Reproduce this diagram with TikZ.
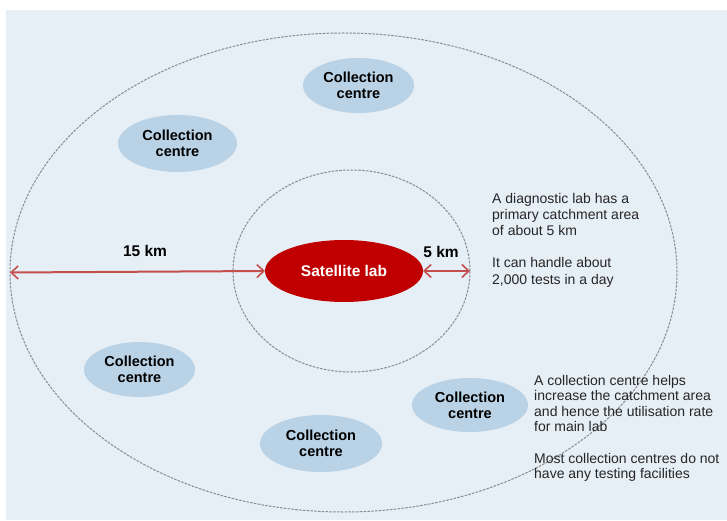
\documentclass[tikz,border=0pt]{standalone}
\usepackage{fontspec}
\setmainfont{Liberation Sans}
\usetikzlibrary{shapes.geometric,arrows.meta}

\definecolor{panel}{RGB}{230,238,246}
\definecolor{centrefill}{RGB}{185,210,229}
\definecolor{labred}{RGB}{192,0,0}
\definecolor{arrowred}{RGB}{196,80,77}
\definecolor{ringgray}{RGB}{140,140,140}
\definecolor{note}{RGB}{38,38,38}

\tikzset{
  ring/.style={ellipse, draw=ringgray, line width=1pt,
    dash pattern=on 2.6pt off 1.2pt, inner sep=0pt, outer sep=0pt},
  centre/.style={ellipse, fill=centrefill, inner sep=0pt, outer sep=0pt,
    align=center, text=black,
    font=\fontsize{14.5}{16}\selectfont\bfseries},
  lab/.style={ellipse, fill=labred, inner sep=0pt, outer sep=0pt,
    text=white, font=\fontsize{15.5}{18}\selectfont\bfseries},
  dist/.style={anchor=center, inner sep=0pt, text=black,
    font=\fontsize{15.5}{18}\selectfont\bfseries},
  reach/.style={draw=arrowred, line width=2pt,
    {Straight Barb[length=7pt,width=13pt,line width=1.6pt]}-{Straight Barb[length=7pt,width=13pt,line width=1.6pt]}},
  notetext/.style={anchor=north west, inner sep=0pt, align=left, text=note}
}

\begin{document}
\begin{tikzpicture}[x=1pt,y=-1pt]
  % page and panel
  \fill[white] (0,0) rectangle (727,521);
  \fill[panel] (6,10) rectangle (727,520);
  \useasboundingbox (0,0) rectangle (727,521);

  % catchment rings
  \node[ring, minimum width=667pt, minimum height=479pt] (outer) at (343.5,272.5) {};
  \node[ring, minimum width=237pt, minimum height=202pt] (inner) at (351.5,271) {};

  % satellite lab
  \node[lab, minimum width=158pt, minimum height=62pt] (sat) at (344,271) {Satellite lab};

  % collection centres
  \node[centre, minimum width=111pt, minimum height=55pt] (cc1) at (358.5,85.5) {Collection\\centre};
  \node[centre, minimum width=119pt, minimum height=57pt] (cc2) at (177.5,143.5) {Collection\\centre};
  \node[centre, minimum width=111pt, minimum height=55pt] (cc3) at (139.5,369.5) {Collection\\centre};
  \node[centre, minimum width=116pt, minimum height=54pt] (cc4) at (470,405) {Collection\\centre};
  \node[centre, minimum width=122pt, minimum height=57pt] (cc5) at (321,443.5) {Collection\\centre};

  % radii
  \draw[reach] (outer.west) -- (sat.west);
  \draw[reach] (sat.east) -- (inner.east);
  \node[dist] (d15) at (145,250.5) {15 km};
  \node[dist] (d5) at (441,252) {5 km};

  % notes
  \node[notetext, font=\fontsize{14}{16.2}\selectfont] (note1) at (492,192.8)
    {A diagnostic lab has a\\primary catchment area\\of about 5 km\\[16.2pt]It can handle about\\2,000 tests in a day};
  \node[notetext, font=\fontsize{14}{15.6}\selectfont] (note2) at (534,374.8)
    {A collection centre helps\\increase the catchment area\\and hence the utilisation rate\\for main lab\\[15.6pt]Most collection centres do not\\have any testing facilities};
\end{tikzpicture}
\end{document}
